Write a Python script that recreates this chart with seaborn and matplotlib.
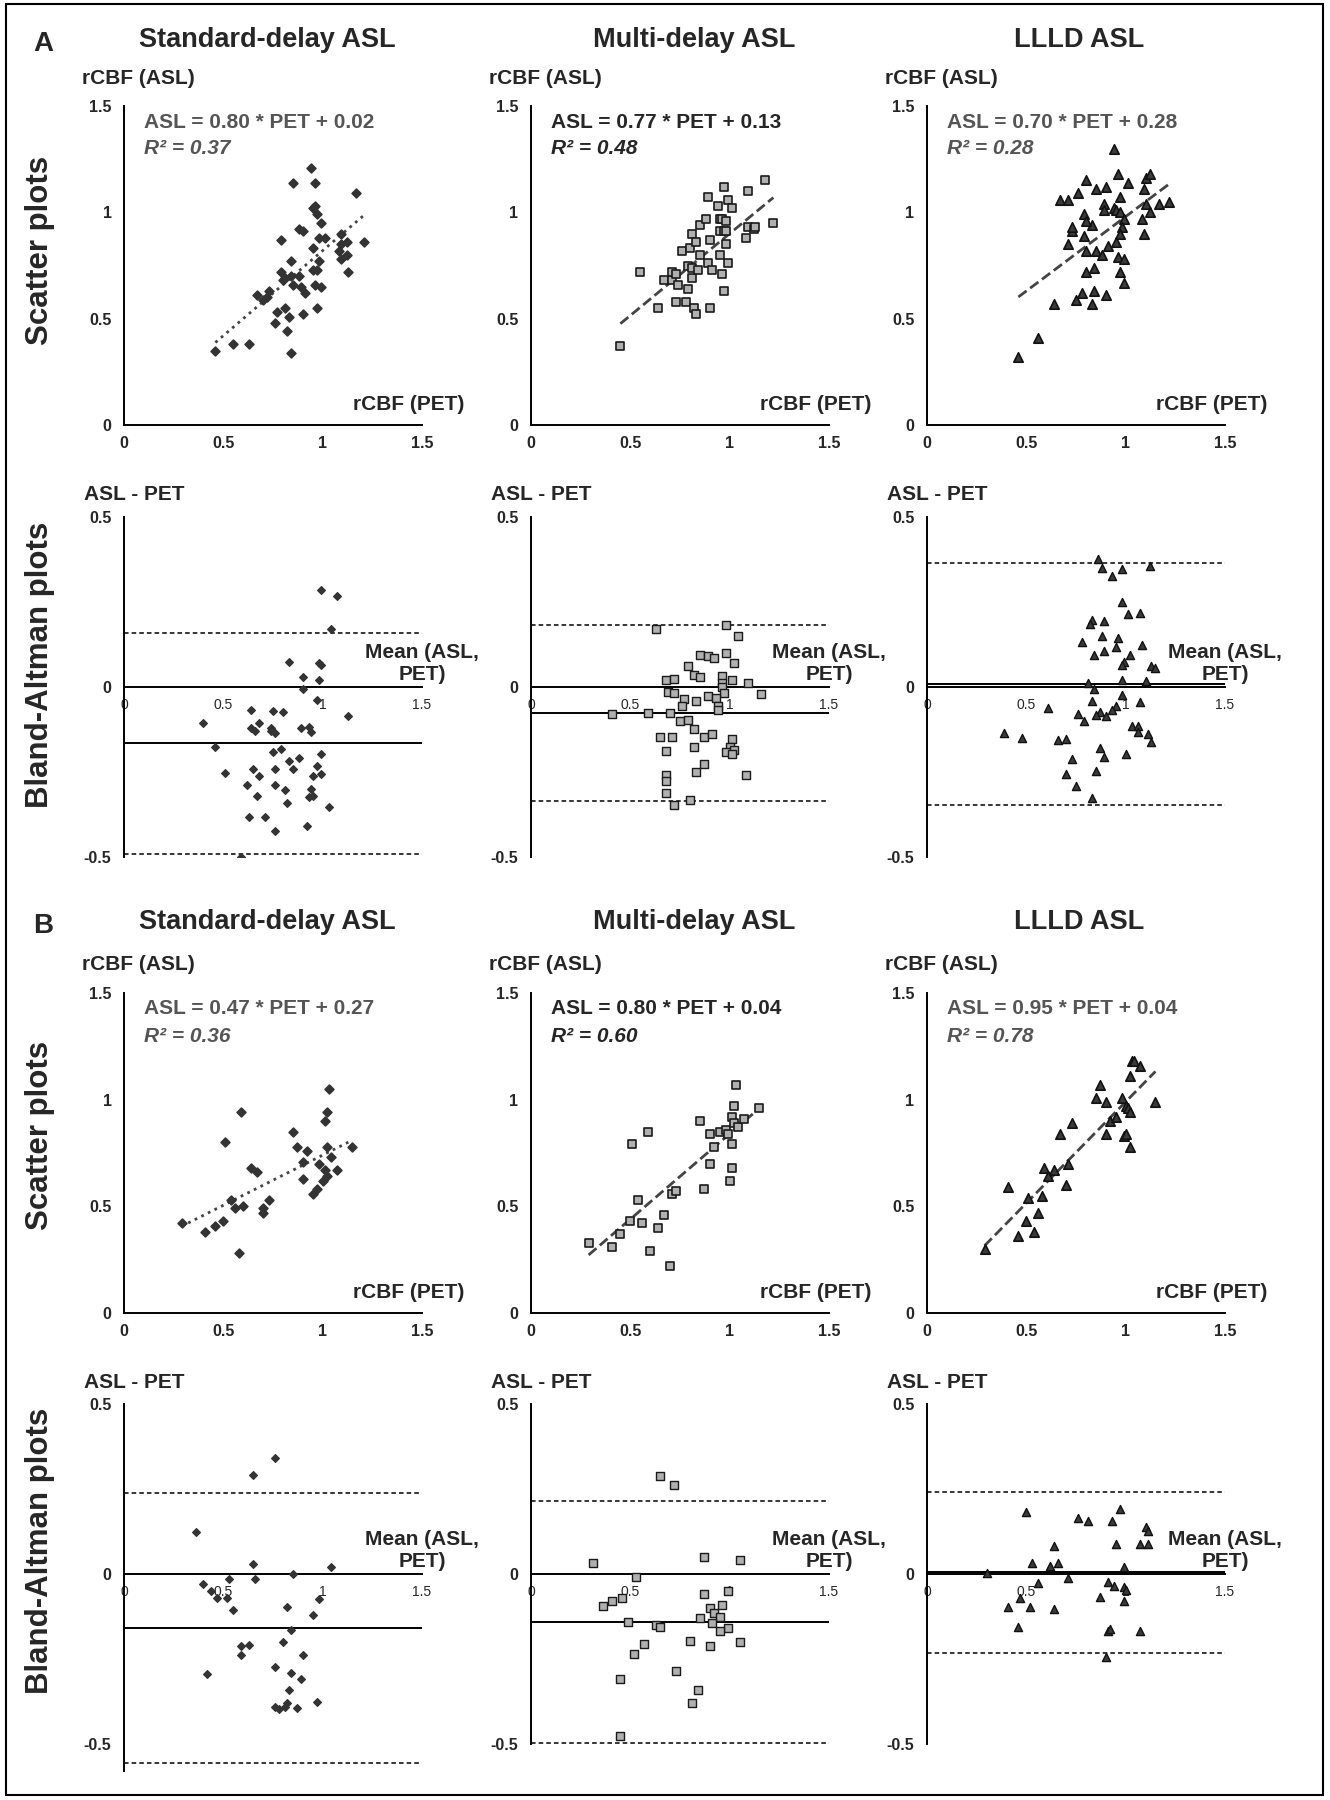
import numpy as np
import pandas as pd
import matplotlib
matplotlib.use('Agg')
import matplotlib.pyplot as plt
import seaborn as sns
from matplotlib.patches import Rectangle

sns.set_style('white')
plt.rcParams['font.family'] = ['Liberation Sans', 'DejaVu Sans']

# ---- data: (PET, ASL) for scatter, (mean, diff) for Bland-Altman ----
a_std_sc = [(0.46, 0.35), (0.55, 0.38), (0.63, 0.38), (0.84, 0.34), (0.82, 0.44), (0.76, 0.48),
            (0.77, 0.53), (0.81, 0.55), (0.83, 0.51), (0.90, 0.52), (0.97, 0.55), (0.67, 0.61),
            (0.70, 0.59), (0.72, 0.60), (0.73, 0.63), (0.79, 0.72), (0.80, 0.68), (0.81, 0.69),
            (0.84, 0.70), (0.85, 0.66), (0.88, 0.70), (0.89, 0.65), (0.91, 0.62), (0.84, 0.77),
            (0.79, 0.87), (0.88, 0.92), (0.90, 0.91), (0.95, 0.83), (0.95, 0.73), (0.97, 0.73),
            (0.98, 0.77), (0.96, 0.66), (0.99, 0.65), (0.98, 0.88), (1.01, 0.88), (0.99, 0.95),
            (0.97, 0.99), (0.95, 1.02), (0.96, 1.03), (0.96, 1.14), (0.94, 1.21), (0.85, 1.14),
            (1.09, 0.90), (1.12, 0.86), (1.08, 0.82), (1.09, 0.78), (1.12, 0.80), (1.13, 0.72),
            (1.17, 1.09), (1.21, 0.86), (1.09, 0.85)]
a_std_ba = [(0.99, 0.285), (1.07, 0.268), (1.04, 0.172), (0.83, 0.075), (0.98, 0.072), (0.99, 0.065),
            (0.90, 0.029), (0.98, 0.021), (0.90, -0.005), (0.97, -0.038), (0.64, -0.069), (0.75, -0.071),
            (0.80, -0.073), (0.40, -0.107), (0.64, -0.122), (0.66, -0.130), (0.68, -0.105), (0.74, -0.120),
            (0.74, -0.130), (0.76, -0.135), (0.89, -0.122), (0.93, -0.118), (0.94, -0.133), (1.13, -0.084),
            (0.46, -0.177), (0.79, -0.182), (0.75, -0.192), (0.99, -0.197), (0.88, -0.208), (0.83, -0.219),
            (0.85, -0.241), (0.76, -0.241), (0.65, -0.241), (0.51, -0.253), (0.68, -0.261), (0.97, -0.233),
            (0.99, -0.255), (0.95, -0.261), (0.62, -0.287), (0.76, -0.289), (0.81, -0.304), (0.94, -0.300),
            (0.67, -0.322), (0.93, -0.324), (0.95, -0.322), (0.82, -0.341), (1.03, -0.354), (0.63, -0.383),
            (0.71, -0.383), (0.92, -0.410), (0.76, -0.423), (0.59, -0.500)]
a_multi_sc = [(0.45, 0.37), (0.55, 0.72), (0.64, 0.55), (0.67, 0.68), (0.71, 0.68), (0.71, 0.72),
              (0.73, 0.71), (0.74, 0.66), (0.73, 0.58), (0.78, 0.58), (0.79, 0.64), (0.79, 0.75),
              (0.81, 0.74), (0.81, 0.69), (0.76, 0.82), (0.80, 0.83), (0.81, 0.90), (0.83, 0.86),
              (0.84, 0.73), (0.82, 0.55), (0.83, 0.52), (0.85, 0.94), (0.85, 0.80), (0.88, 0.97),
              (0.90, 0.87), (0.89, 0.76), (0.91, 0.73), (0.90, 0.55), (0.89, 1.07), (0.94, 1.03),
              (0.95, 0.97), (0.96, 0.97), (0.98, 0.96), (0.95, 0.91), (0.97, 0.91), (0.98, 0.91),
              (0.95, 0.80), (0.98, 0.85), (0.99, 0.76), (0.96, 0.71), (0.97, 0.63), (0.97, 1.12),
              (0.99, 1.06), (1.01, 1.02), (1.08, 0.88), (1.09, 0.93), (1.09, 1.10), (1.12, 0.92),
              (1.13, 0.93), (1.18, 1.15), (1.22, 0.95)]
a_multi_ba = [(0.41, -0.078), (0.59, -0.075), (0.63, 0.170), (0.98, 0.183), (1.04, 0.150), (0.85, 0.093),
              (0.89, 0.091), (0.92, 0.086), (0.98, 0.100), (1.02, 0.072), (0.79, 0.061), (0.82, 0.034),
              (0.85, 0.029), (0.96, 0.031), (0.96, 0.013), (0.96, 0.000), (1.01, 0.020), (1.09, 0.012),
              (1.16, -0.022), (0.68, 0.020), (0.72, 0.023), (0.69, -0.015), (0.72, -0.018), (0.97, -0.018),
              (0.89, -0.026), (0.93, -0.032), (0.77, -0.034), (0.83, -0.042), (0.76, -0.057), (0.94, -0.057),
              (0.94, -0.067), (0.70, -0.076), (0.75, -0.100), (0.79, -0.098), (0.82, -0.123), (0.65, -0.147),
              (0.71, -0.147), (0.87, -0.147), (0.91, -0.137), (1.01, -0.154), (1.00, -0.175), (1.02, -0.184),
              (0.98, -0.191), (1.01, -0.198), (0.68, -0.189), (0.82, -0.176), (0.87, -0.225), (0.83, -0.250),
              (1.08, -0.258), (0.68, -0.258), (0.68, -0.277), (0.68, -0.312), (0.80, -0.333), (0.72, -0.348)]
a_llld_sc = [(0.46, 0.32), (0.56, 0.41), (0.64, 0.57), (0.75, 0.59), (0.78, 0.62), (0.83, 0.57),
             (0.84, 0.63), (0.90, 0.61), (0.80, 0.72), (0.84, 0.74), (0.71, 0.85), (0.80, 0.82),
             (0.85, 0.82), (0.88, 0.80), (0.91, 0.84), (0.79, 0.89), (0.83, 0.94), (0.73, 0.91),
             (0.73, 0.93), (0.79, 0.99), (0.80, 0.96), (0.67, 1.06), (0.71, 1.06), (0.76, 1.09),
             (0.80, 1.15), (0.85, 1.11), (0.90, 1.12), (0.89, 1.04), (0.89, 1.01), (0.94, 1.02),
             (0.95, 1.01), (0.97, 1.07), (0.97, 1.00), (0.99, 0.97), (0.98, 0.93), (0.97, 0.90),
             (0.95, 0.86), (0.96, 0.79), (0.99, 0.78), (0.97, 0.72), (0.99, 0.67), (0.96, 1.18),
             (0.94, 1.30), (1.01, 1.14), (1.09, 1.11), (1.10, 1.04), (1.08, 0.97), (1.09, 0.90),
             (1.12, 1.00), (1.10, 1.16), (1.12, 1.18), (1.17, 1.04), (1.22, 1.05)]
a_llld_ba = [(0.86, 0.377), (0.88, 0.351), (0.93, 0.326), (0.98, 0.346), (1.12, 0.355), (0.98, 0.250),
             (1.01, 0.216), (1.07, 0.218), (0.83, 0.196), (0.82, 0.184), (0.89, 0.193), (0.88, 0.149),
             (0.96, 0.145), (0.78, 0.132), (0.95, 0.118), (1.08, 0.125), (0.89, 0.106), (0.84, 0.095),
             (1.02, 0.095), (0.99, 0.075), (0.98, 0.066), (1.13, 0.061), (1.15, 0.057), (0.98, 0.020),
             (1.10, 0.017), (0.81, 0.012), (0.84, -0.005), (0.98, -0.023), (0.83, -0.042), (1.07, -0.044),
             (0.61, -0.062), (0.95, -0.057), (0.93, -0.069), (0.87, -0.074), (0.76, -0.080), (0.85, -0.083),
             (0.90, -0.086), (0.79, -0.100), (0.39, -0.135), (0.48, -0.149), (0.66, -0.157), (0.70, -0.154),
             (1.03, -0.115), (1.06, -0.115), (1.06, -0.132), (1.11, -0.139), (1.13, -0.162), (0.87, -0.178),
             (0.89, -0.206), (1.00, -0.196), (0.73, -0.213), (0.70, -0.255), (0.85, -0.247), (0.75, -0.292),
             (0.83, -0.326)]
b_std_sc = [(0.29, 0.42), (0.41, 0.38), (0.46, 0.41), (0.50, 0.43), (0.54, 0.53), (0.56, 0.49),
            (0.60, 0.50), (0.58, 0.28), (0.51, 0.80), (0.59, 0.94), (0.64, 0.68), (0.67, 0.66),
            (0.70, 0.49), (0.70, 0.47), (0.73, 0.53), (0.85, 0.85), (0.87, 0.78), (0.92, 0.76),
            (0.90, 0.71), (0.90, 0.63), (0.95, 0.56), (0.97, 0.58), (0.98, 0.70), (1.00, 0.62),
            (1.01, 0.67), (1.02, 0.64), (1.02, 0.78), (1.04, 0.73), (1.07, 0.67), (1.01, 0.90),
            (1.02, 0.94), (1.03, 1.05), (1.15, 0.78)]
b_std_ba = [(0.76, 0.342), (0.65, 0.291), (0.36, 0.124), (0.65, 0.030), (1.04, 0.020), (0.85, 0.001),
            (0.40, -0.031), (0.44, -0.050), (0.47, -0.070), (0.53, -0.016), (0.66, -0.014), (0.52, -0.071),
            (0.55, -0.107), (0.82, -0.097), (0.98, -0.075), (0.95, -0.120), (0.84, -0.164), (0.80, -0.200),
            (0.59, -0.212), (0.63, -0.210), (0.59, -0.240), (0.90, -0.240), (0.42, -0.296), (0.76, -0.274),
            (0.84, -0.291), (0.89, -0.308), (0.83, -0.343), (0.76, -0.392), (0.78, -0.399), (0.81, -0.392),
            (0.82, -0.379), (0.87, -0.395), (0.97, -0.377)]
b_multi_sc = [(0.29, 0.33), (0.41, 0.31), (0.45, 0.37), (0.50, 0.43), (0.56, 0.42), (0.54, 0.53),
              (0.51, 0.79), (0.59, 0.85), (0.60, 0.29), (0.64, 0.40), (0.67, 0.46), (0.70, 0.22),
              (0.71, 0.56), (0.73, 0.57), (0.87, 0.58), (0.85, 0.90), (0.90, 0.84), (0.90, 0.70),
              (0.92, 0.78), (0.95, 0.85), (0.98, 0.86), (0.99, 0.84), (1.00, 0.62), (1.01, 0.79),
              (1.01, 0.68), (1.01, 0.92), (1.02, 0.97), (1.02, 0.89), (1.04, 0.87), (1.07, 0.91),
              (1.03, 1.07), (1.15, 0.96)]
b_multi_ba = [(0.65, 0.287), (0.72, 0.262), (0.31, 0.032), (0.87, 0.049), (1.05, 0.041), (0.53, -0.008),
              (0.99, -0.049), (0.87, -0.059), (0.36, -0.095), (0.41, -0.080), (0.46, -0.072), (0.96, -0.090),
              (0.90, -0.100), (0.92, -0.115), (0.85, -0.130), (0.95, -0.127), (0.91, -0.144), (0.49, -0.142),
              (0.63, -0.150), (0.65, -0.157), (0.99, -0.159), (0.95, -0.169), (0.80, -0.198), (0.90, -0.213),
              (1.05, -0.199), (0.57, -0.206), (0.52, -0.235), (0.73, -0.284), (0.45, -0.309), (0.84, -0.341),
              (0.81, -0.380), (0.45, -0.477)]
b_llld_sc = [(0.29, 0.30), (0.41, 0.59), (0.46, 0.36), (0.50, 0.43), (0.54, 0.38), (0.51, 0.54),
             (0.56, 0.47), (0.58, 0.55), (0.59, 0.68), (0.61, 0.64), (0.64, 0.67), (0.67, 0.84),
             (0.70, 0.60), (0.71, 0.70), (0.73, 0.89), (0.85, 1.01), (0.87, 1.07), (0.90, 0.99),
             (0.90, 0.84), (0.92, 0.90), (0.95, 0.92), (0.98, 1.01), (0.99, 0.83), (1.00, 0.84),
             (1.00, 0.97), (1.01, 0.96), (1.02, 0.94), (1.02, 0.78), (1.02, 1.11), (1.03, 1.18),
             (1.04, 1.18), (1.07, 1.16), (1.15, 0.99)]
b_llld_ba = [(0.50, 0.181), (0.97, 0.191), (0.76, 0.166), (0.81, 0.156), (0.93, 0.156), (1.10, 0.137),
             (1.11, 0.127), (0.64, 0.083), (0.95, 0.088), (1.07, 0.088), (1.11, 0.088), (0.53, 0.033),
             (0.62, 0.025), (0.66, 0.033), (0.99, 0.022), (0.30, 0.004), (0.71, -0.013), (0.56, -0.025),
             (0.91, -0.023), (0.94, -0.034), (0.99, -0.037), (1.00, -0.047), (0.47, -0.070), (0.87, -0.067),
             (0.99, -0.078), (0.41, -0.098), (0.52, -0.098), (0.64, -0.104), (0.46, -0.157), (0.91, -0.168),
             (0.92, -0.162), (1.07, -0.168), (0.90, -0.243)]

# regression (slope, intercept, R2) and Bland-Altman lines (upper LoA, mean bias, lower LoA)
a_fits = [(0.80, 0.02, '0.37'), (0.77, 0.13, '0.48'), (0.70, 0.28, '0.28')]
b_fits = [(0.47, 0.27, '0.36'), (0.80, 0.04, '0.60'), (0.95, 0.04, '0.78')]
a_ba_lines = [(0.160, -0.164, -0.491), (0.183, -0.076, -0.335), (0.366, 0.008, -0.346)]
b_ba_lines = [(0.239, -0.158, -0.556), (0.216, -0.142, -0.498), (0.240, 0.007, -0.231)]

col_titles = ['Standard-delay ASL', 'Multi-delay ASL', 'LLLD ASL']
col_title_x = [267, 694, 1079]
ticks = [0, 0.5, 1, 1.5]
tick_labels = ['0', '0.5', '1', '1.5']

W, H = 1330, 1800
fig = plt.figure(figsize=(W / 100, H / 100), dpi=100)


def fx(p):
    return p / W


def fy(p):
    return 1 - p / H


def rect(left, top, w, h):
    return [left / W, 1 - (top + h) / H, w / W, h / H]


# marker styles per column
styles = [
    dict(marker='D', sc_s=20, ba_s=15, color='#333333', ec='#333333', fit_ls=':'),
    dict(marker='s', sc_s=38, ba_s=26, color='#b0b0b0', ec='#1a1a1a', fit_ls='--'),
    dict(marker='^', sc_s=46, ba_s=34, color='#3a3a3a', ec='#111111', fit_ls='--'),
]
eq_colors = ['#555555', '#262626', '#555555']

col_left = [124, 531, 927]
col_w = 298
LAB = 15


def style_ticks(ax, yt, ylab):
    ax.set_xticks(ticks)
    ax.set_xticklabels(tick_labels, fontsize=11.5, fontweight='bold')
    ax.set_yticks(yt)
    ax.set_yticklabels(ylab, fontsize=11.5, fontweight='bold')
    ax.tick_params(axis='both', length=0)
    ax.tick_params(axis='x', pad=8)
    ax.tick_params(axis='y', pad=9)
    for s in ['top', 'right']:
        ax.spines[s].set_visible(False)
    for s in ['left', 'bottom']:
        ax.spines[s].set_color('black')
        ax.spines[s].set_linewidth(1.4)


def scatter_panel(c, top, h, pts, fit):
    st = styles[c]
    left = col_left[c]
    ax = fig.add_axes(rect(left, top, col_w, h))
    df = pd.DataFrame(pts, columns=['pet', 'asl'])
    sns.scatterplot(data=df, x='pet', y='asl', ax=ax, marker=st['marker'], s=st['sc_s'],
                    color=st['color'], edgecolor=st['ec'], linewidth=1.2, zorder=3)
    xs = np.array([df['pet'].min(), df['pet'].max()])
    ax.plot(xs, fit[0] * xs + fit[1], ls=st['fit_ls'], color='#444444', lw=2, zorder=2)
    ax.set_xlim(0, 1.5)
    ax.set_ylim(0, 1.5)
    ax.set_xlabel('')
    ax.set_ylabel('')
    style_ticks(ax, ticks, tick_labels)
    fig.text(fx(left - 42), fy(top - 28), 'rCBF (ASL)', fontsize=LAB, fontweight='bold',
             ha='left', va='center')
    fig.text(fx(left + col_w + 42), fy(top + h - 21), 'rCBF (PET)', fontsize=LAB,
             fontweight='bold', ha='right', va='center')
    fig.text(fx(left + 20), fy(top + 16), f'ASL = {fit[0]:.2f} * PET + {fit[1]:.2f}',
             fontsize=15, fontweight='bold', color=eq_colors[c], ha='left', va='center')
    fig.text(fx(left + 20), fy(top + 43), f'R² = {fit[2]}', fontsize=15, fontweight='bold',
             style='italic', color=eq_colors[c], ha='left', va='center')


def ba_panel(c, top, h, pts, lines, ymin=-0.5):
    st = styles[c]
    left = col_left[c]
    ax = fig.add_axes(rect(left, top, col_w, h))
    df = pd.DataFrame(pts, columns=['mean', 'diff'])
    sns.scatterplot(data=df, x='mean', y='diff', ax=ax, marker=st['marker'], s=st['ba_s'],
                    color=st['color'], edgecolor=st['ec'], linewidth=1.0, zorder=3)
    up, bias, low = lines
    ax.axhline(up, color='black', ls=(0, (3, 2)), lw=1.1, zorder=2)
    ax.axhline(low, color='black', ls=(0, (3, 2)), lw=1.1, zorder=2)
    ax.axhline(bias, color='black', lw=1.4, zorder=2)
    ax.set_xlim(0, 1.5)
    ax.set_ylim(ymin, 0.5)
    ax.set_xlabel('')
    ax.set_ylabel('')
    style_ticks(ax, [-0.5, 0, 0.5], ['-0.5', '0', '0.5'])
    ax.spines['bottom'].set_position(('data', 0))
    ax.annotate('Mean (ASL,\nPET)', xy=(1.5, 0), xytext=(0, 2), textcoords='offset points',
                ha='center', va='bottom', multialignment='center', fontsize=LAB,
                fontweight='bold', linespacing=1.2)
    fig.text(fx(left - 40), fy(top - 22), 'ASL - PET', fontsize=LAB, fontweight='bold',
             ha='left', va='center')


for c in range(3):
    scatter_panel(c, 106, 319, [a_std_sc, a_multi_sc, a_llld_sc][c], a_fits[c])
    ba_panel(c, 517, 340, [a_std_ba, a_multi_ba, a_llld_ba][c], a_ba_lines[c])
    scatter_panel(c, 993, 320, [b_std_sc, b_multi_sc, b_llld_sc][c], b_fits[c])
    if c == 0:
        ba_panel(c, 1404, 367, b_std_ba, b_ba_lines[c], ymin=-0.58)
    else:
        ba_panel(c, 1404, 340, [b_std_ba, b_multi_ba, b_llld_ba][c], b_ba_lines[c])

# column titles and section letters
for top, letter in [(40, 'A'), (922, 'B')]:
    fig.text(fx(43), fy(top + 4), letter, fontsize=20, fontweight='bold', ha='center', va='center')
    for t, x in zip(col_titles, col_title_x):
        fig.text(fx(x), fy(top), t, fontsize=19.5, fontweight='bold', ha='center', va='center')

# row labels
for y, lab in [(250, 'Scatter plots'), (665, 'Bland-Altman plots'),
               (1135, 'Scatter plots'), (1551, 'Bland-Altman plots')]:
    fig.text(fx(40), fy(y), lab, fontsize=22.5, fontweight='bold', rotation=90,
             ha='center', va='center')

# outer frame
fig.add_artist(Rectangle((fx(6), fy(1795)), (1323 - 6) / W, (1795 - 4) / H,
                         transform=fig.transFigure, fill=False, edgecolor='black', lw=1.5))

fig.savefig('out.png', dpi=100)
